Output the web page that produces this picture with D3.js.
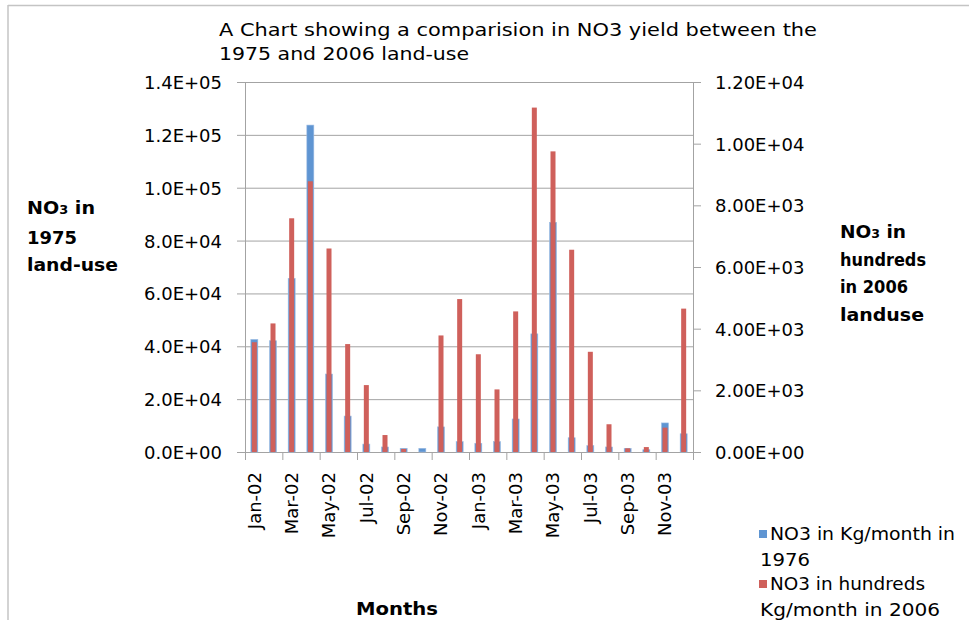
<!DOCTYPE html>
<html>
<head>
<meta charset="utf-8">
<script src="https://cdn.jsdelivr.net/npm/d3@7"></script>
<style>
  html, body { margin: 0; padding: 0; background: #fff; }
  svg { display: block; }
  text { font-family: "DejaVu Sans", sans-serif; fill: #000; }
</style>
</head>
<body>
<svg id="chart" width="969" height="620"></svg>
<script>
// ---- data ----
const months = ["Jan-02","Feb-02","Mar-02","Apr-02","May-02","Jun-02","Jul-02","Aug-02","Sep-02","Oct-02","Nov-02","Dec-02",
                "Jan-03","Feb-03","Mar-03","Apr-03","May-03","Jun-03","Jul-03","Aug-03","Sep-03","Oct-03","Nov-03","Dec-03"];
const no3_1976 = [42600, 42100, 65700, 123700, 29500, 13600, 3000, 1900, 1400, 1400, 9500, 3900,
                  3300, 3900, 12500, 44700, 86900, 5400, 2400, 1900, 1400, 870, 11000, 6900];
const no3_2006 = [3560, 4170, 7580, 8780, 6600, 3500, 2170, 550, 100, 0, 3780, 4960,
                  3170, 2030, 4560, 11170, 9750, 6560, 3250, 900, 120, 160, 790, 4650];
const leftTicks = [0, 20000, 40000, 60000, 80000, 100000, 120000, 140000];
const rightTicks = [0, 2000, 4000, 6000, 8000, 10000, 12000];
const xTickLabels = months.filter((d, i) => i % 2 === 0);
const titleLines = ["A Chart showing a comparision in NO3 yield between the", "1975 and 2006 land-use"];
const legendLabels = [["NO3 in Kg/month in", "1976"], ["NO3 in hundreds", "Kg/month in 2006"]];

// ---- layout ----
const svg = d3.select("#chart");
const L = 245, R = 693, T = 82, B = 452;
const blue = "#5F95D2", red = "#CF605B";

function sciFmt(digits) {
  return d => {
    const [m, e] = d.toExponential(digits).split("e");
    const sign = e[0] === "-" ? "-" : "+";
    return m + "E" + sign + String(Math.abs(+e)).padStart(2, "0");
  };
}

// outer frame lines
svg.append("line").attr("x1", 8).attr("x2", 969).attr("y1", 5.5).attr("y2", 5.5).attr("stroke", "#c4c4c4").attr("stroke-width", 1.5);
svg.append("line").attr("x1", 8).attr("x2", 8).attr("y1", 5).attr("y2", 620).attr("stroke", "#c4c4c4").attr("stroke-width", 1.5);

const x = d3.scaleBand().domain(months).range([L, R]).padding(0);
const yL = d3.scaleLinear().domain([0, 140000]).range([B, T]);
const yR = d3.scaleLinear().domain([0, 12000]).range([B, T]);

// gridlines
svg.append("g").selectAll("line").data(leftTicks).join("line")
  .attr("x1", L).attr("x2", R).attr("y1", d => yL(d) + 0.5).attr("y2", d => yL(d) + 0.5)
  .attr("stroke", "#a3a3a3").attr("stroke-width", 1);

// left axis
const gL = svg.append("g").attr("transform", `translate(${L},0)`)
  .call(d3.axisLeft(yL).tickValues(leftTicks).tickFormat(sciFmt(1)).tickSize(8).tickPadding(15));
gL.selectAll("text").style("font-size", "18px").attr("dy", "0.36em");
gL.selectAll("line, path").attr("stroke", "#a3a3a3");

// right axis
const gR = svg.append("g").attr("transform", `translate(${R},0)`)
  .call(d3.axisRight(yR).tickValues(rightTicks).tickFormat(sciFmt(2)).tickSize(8).tickPadding(14));
gR.selectAll("text").style("font-size", "18px").attr("dy", "0.36em");
gR.selectAll("line, path").attr("stroke", "#a3a3a3");

// bottom axis line and tick marks at every second band boundary
svg.append("line").attr("x1", L).attr("x2", R).attr("y1", B + 0.5).attr("y2", B + 0.5).attr("stroke", "#a3a3a3");
const boundaries = months.filter((d, i) => i % 2 === 0).map(d => x(d)).concat([x.range()[1]]);
svg.append("g").selectAll("line").data(boundaries).join("line")
  .attr("x1", d => d + 0.5).attr("x2", d => d + 0.5).attr("y1", B).attr("y2", B + 8)
  .attr("stroke", "#a3a3a3");

// x labels
svg.append("g").selectAll("text").data(xTickLabels).join("text")
  .attr("transform", d => `translate(${x(d) + x.bandwidth() / 2},472) rotate(-90)`)
  .attr("text-anchor", "end").attr("dy", "0.35em")
  .style("font-size", "18px").text(d => d);

// bars
const bw = x.bandwidth();
svg.append("g").selectAll("rect").data(months).join("rect")
  .attr("x", d => x(d) + bw / 2 - 3.5).attr("width", 7)
  .attr("y", (d, i) => yL(no3_1976[i])).attr("height", (d, i) => B - yL(no3_1976[i]))
  .attr("fill", blue).attr("stroke", "#9dbde3").attr("stroke-width", 0.6);
svg.append("g").selectAll("rect").data(months).join("rect")
  .attr("x", d => x(d) + bw / 2 - 2.5).attr("width", 5)
  .attr("y", (d, i) => yR(no3_2006[i])).attr("height", (d, i) => B - yR(no3_2006[i]))
  .attr("fill", red);

// title
svg.append("g").selectAll("text").data(titleLines).join("text")
  .attr("x", 219).attr("y", (d, i) => 36 + i * 24)
  .style("font-size", "18.5px")
  .attr("textLength", (d, i) => i === 0 ? 598 : 250).attr("lengthAdjust", "spacingAndGlyphs")
  .text(d => d);

// left axis title
function no3Line(g, xPos, yPos, suffix, len) {
  const t = g.append("text").attr("x", xPos).attr("y", yPos);
  if (len) t.attr("textLength", len).attr("lengthAdjust", "spacingAndGlyphs");
  t.append("tspan").text("NO");
  t.append("tspan").style("font-size", "11.5px").text("3");
  t.append("tspan").text(suffix);
  return t;
}
const lt = svg.append("g").style("font-size", "17px").style("font-weight", "bold");
no3Line(lt, 27, 214, " in", 68);
lt.append("text").attr("x", 27).attr("y", 244).attr("textLength", 50).attr("lengthAdjust", "spacingAndGlyphs").text("1975");
lt.append("text").attr("x", 27).attr("y", 271).attr("textLength", 91).attr("lengthAdjust", "spacingAndGlyphs").text("land-use");

// right axis title
const rt = svg.append("g").style("font-size", "17px").style("font-weight", "bold");
no3Line(rt, 840, 238, " in", 66);
rt.append("text").attr("x", 840).attr("y", 266).attr("textLength", 86).attr("lengthAdjust", "spacingAndGlyphs").text("hundreds");
rt.append("text").attr("x", 840).attr("y", 293).attr("textLength", 68).attr("lengthAdjust", "spacingAndGlyphs").text("in 2006");
rt.append("text").attr("x", 840).attr("y", 321).attr("textLength", 84).attr("lengthAdjust", "spacingAndGlyphs").text("landuse");

// x axis title
svg.append("text").attr("x", 356).attr("y", 615)
  .attr("textLength", 82).attr("lengthAdjust", "spacingAndGlyphs")
  .style("font-size", "17px").style("font-weight", "bold").text("Months");

// legend
const colors = [blue, red];
const lens = [[185, 50], [155, 180]];
const lg = svg.append("g");
legendLabels.forEach((lines, k) => {
  const y0 = 540 + k * 50;
  lg.append("rect").attr("x", 759).attr("y", y0 - 10).attr("width", 8).attr("height", 8).attr("fill", colors[k]);
  lg.append("text").attr("x", 770).attr("y", y0).style("font-size", "17px")
    .attr("textLength", lens[k][0]).attr("lengthAdjust", "spacingAndGlyphs").text(lines[0]);
  lg.append("text").attr("x", 760).attr("y", y0 + 26).style("font-size", "17px")
    .attr("textLength", lens[k][1]).attr("lengthAdjust", "spacingAndGlyphs").text(lines[1]);
});
</script>
</body>
</html>
